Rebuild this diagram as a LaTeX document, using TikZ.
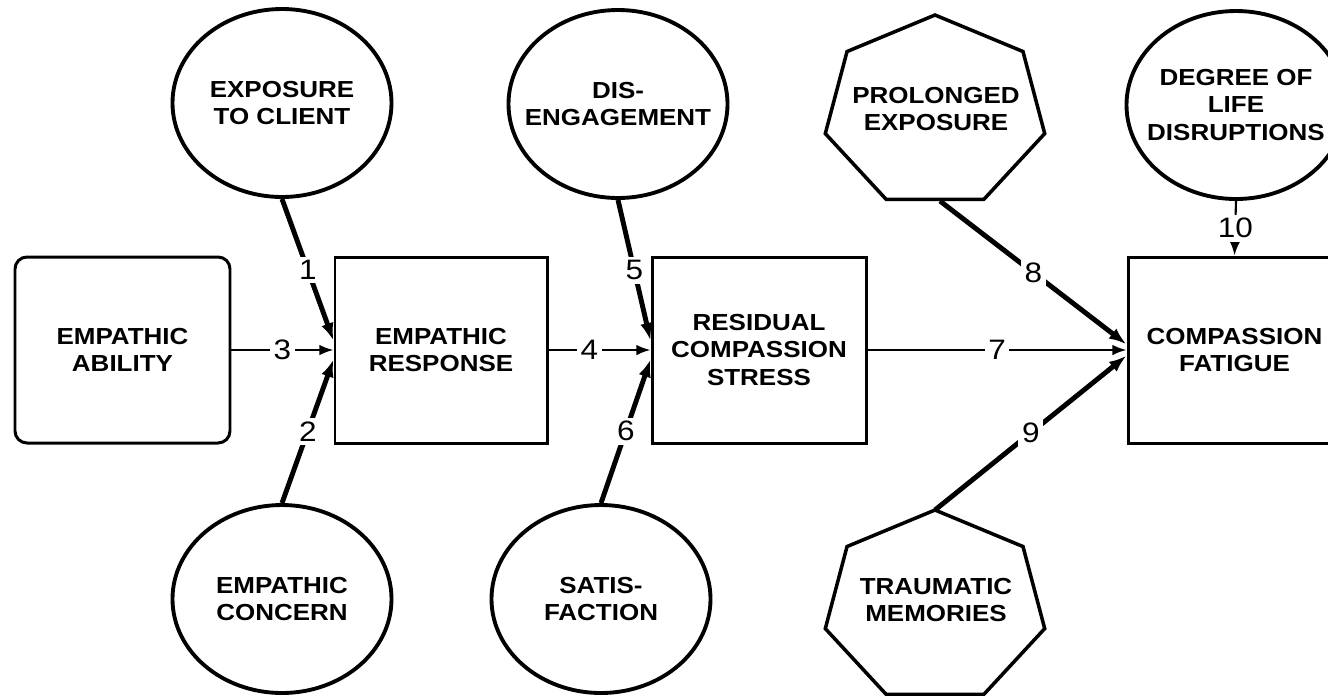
\documentclass[tikz,border=0pt]{standalone}
\usepackage{fontspec}
\usetikzlibrary{shapes.geometric,arrows.meta}
\newfontfamily\lblfont{Liberation Sans}[FakeStretch=1.12]
\newcommand{\lblsize}{\fontsize{6.6pt}{7.7pt}\selectfont}
\newcommand{\numsize}{\fontsize{8pt}{9pt}\selectfont}

\begin{document}
\begin{tikzpicture}[thick,
  box node/.style={rectangle,draw,line width=0.85pt,minimum width=2.12cm,minimum height=1.86cm,align=center,font=\lblfont\bfseries\lblsize},
  oval node/.style={ellipse,draw,line width=1.1pt,minimum width=2.19cm,minimum height=1.88cm,inner xsep=-0.17cm,inner ysep=0pt,align=center,font=\lblfont\bfseries\lblsize},
  hept node/.style={align=center,font=\lblfont\bfseries\lblsize},
  heavy/.style={line width=1.4pt,-{Latex[length=5pt,width=3.6pt]}},
  light/.style={line width=0.6pt,-{Latex[length=4pt,width=3pt]}}]
  \useasboundingbox (0,0) rectangle (13.28,-6.95);
  \clip (0,0) rectangle (13.28,-6.95);
  % main chain
  \node[box node,minimum width=2.15cm,rounded corners=0.12cm] (ea) at (1.225,-3.5) {EMPATHIC\\ABILITY};
  \node[box node] (er) at (4.41,-3.5) {EMPATHIC\\RESPONSE};
  \node[box node,minimum width=2.14cm] (rs) at (7.59,-3.5) {RESIDUAL\\COMPASSION\\STRESS};
  \node[box node,minimum width=2.13cm] (cf) at (12.345,-3.5) {COMPASSION\\FATIGUE};
  % influences
  \node[oval node] (ec) at (2.82,-1.03) {EXPOSURE\\TO CLIENT};
  \node[oval node] (ecn) at (2.82,-5.99) {EMPATHIC\\CONCERN};
  \node[oval node] (de) at (6.18,-1.04) {DIS-\\ENGAGEMENT};
  \node[oval node] (sf) at (6.01,-5.99) {SATIS-\\FACTION};
  \node[oval node] (dl) at (12.36,-1.05) {DEGREE OF\\LIFE\\DISRUPTIONS};
  % heptagons
  \foreach \y in {-1.12,-6.07}
    \draw[line width=1pt,shift={(9.35,\y)},xscale=1.16]
      (90:0.97) \foreach \k in {1,...,6}{ -- (90+\k*360/7:0.97)} -- cycle;
  \node[hept node] (pe) at (9.36,-1.09) {PROLONGED\\EXPOSURE};
  \node[hept node] (tm) at (9.36,-6.00) {TRAUMATIC\\MEMORIES};
  \coordinate (pe-b) at (9.40,-2.01);
  \coordinate (tm-t) at (9.35,-5.10);
  \path[every node/.style={font=\lblfont\numsize,fill=white,inner sep=1pt}]
   (ec.south) edge[heavy] node{1} (er.175)
   (ecn.north) edge[heavy] node{2} (er.185)
   (ea) edge[light] node{3} (er)
   (er) edge[light] node[pos=0.4]{4} (rs)
   (de.south) edge[heavy] node{5} (rs.175)
   (sf.north) edge[heavy] node{6} (rs.185)
   (rs) edge[light] node{7} (cf)
   (pe-b) edge[heavy] node{8} (cf.177)
   (tm-t) edge[heavy] node{9} (cf.183)
   (dl.south) edge[light] node{10} (cf.north);
\end{tikzpicture}
\end{document}
